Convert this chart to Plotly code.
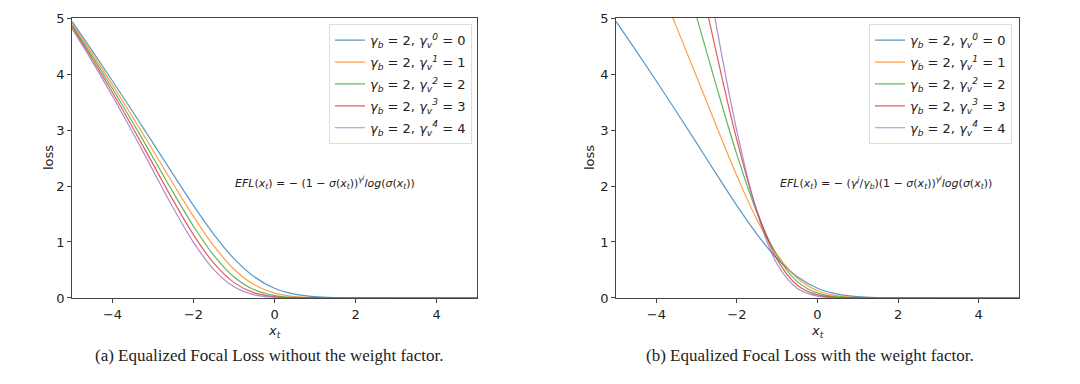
import plotly.graph_objects as go

# x_t sample positions
x_vals = [-5, -4.5, -4, -3.5, -3, -2.5, -2, -1.5, -1, -0.5, 0, 0.5, 1, 1.5, 2, 2.5, 3, 3.5, 4, 4.5, 5]

# (a) without weight factor, gamma_v^j = 0..4
a_g0 = [4.9399, 4.4125, 3.8749, 3.3259, 2.7663, 2.2025, 1.6501, 1.1373, 0.7019, 0.3774, 0.1733, 0.0676, 0.0227, 0.0067, 0.0018, 0.00045, 0.00011, 0.00003, 0.00001, 0, 0]
a_g1 = [4.9069, 4.3640, 3.8052, 3.2284, 2.6351, 2.0354, 1.4534, 0.9298, 0.5131, 0.2349, 0.0866, 0.0255, 0.0061, 0.0012, 0.0002, 0.00003, 0, 0, 0, 0, 0]
a_g2 = [4.8742, 4.3160, 3.7368, 3.1337, 2.5101, 1.8810, 1.2801, 0.7602, 0.3751, 0.1462, 0.0433, 0.0096, 0.0016, 0.0002, 0.00003, 0, 0, 0, 0, 0, 0]
a_g3 = [4.8414, 4.2686, 3.6696, 3.0419, 2.3911, 1.7383, 1.1275, 0.6215, 0.2742, 0.0910, 0.0217, 0.0036, 0.0004, 0.00004, 0, 0, 0, 0, 0, 0, 0]
a_g4 = [4.8090, 4.2217, 3.6036, 2.9527, 2.2777, 1.6064, 0.9931, 0.5081, 0.2005, 0.0567, 0.0108, 0.0014, 0.0001, 0, 0, 0, 0, 0, 0, 0, 0]

# (b) with weight factor
b_g0 = [4.9399, 4.4125, 3.8749, 3.3259, 2.7663, 2.2025, 1.6501, 1.1373, 0.7019, 0.3774, 0.1733, 0.0676, 0.0227, 0.0067, 0.0018, 0.00045, 0.00011, 0.00003, 0.00001, 0, 0]
b_g1 = [7.3603, 6.5460, 5.7078, 4.8425, 3.9526, 3.0531, 2.1801, 1.3947, 0.7697, 0.3524, 0.1300, 0.0383, 0.0091, 0.0018, 0.0003, 0.00005, 0, 0, 0, 0, 0]
b_g2 = [9.7483, 8.6321, 7.4735, 6.2675, 5.0202, 3.7620, 2.5603, 1.5204, 0.7502, 0.2925, 0.0866, 0.0193, 0.0033, 0.0004, 0.00006, 0, 0, 0, 0, 0, 0]
b_g3 = [12.1035, 10.6715, 9.1739, 7.6047, 5.9777, 4.3458, 2.8188, 1.5538, 0.6856, 0.2276, 0.0542, 0.0091, 0.0011, 0.0001, 0, 0, 0, 0, 0, 0, 0]
b_g4 = [14.4270, 12.6651, 10.8107, 8.8582, 6.8330, 4.8193, 2.9794, 1.5244, 0.6014, 0.1700, 0.0325, 0.0041, 0.0004, 0, 0, 0, 0, 0, 0, 0, 0]

series_names = [
    "<i>γ<sub>b</sub></i> = 2, <i>γ<sub>v</sub><sup>0</sup></i> = 0",
    "<i>γ<sub>b</sub></i> = 2, <i>γ<sub>v</sub><sup>1</sup></i> = 1",
    "<i>γ<sub>b</sub></i> = 2, <i>γ<sub>v</sub><sup>2</sup></i> = 2",
    "<i>γ<sub>b</sub></i> = 2, <i>γ<sub>v</sub><sup>3</sup></i> = 3",
    "<i>γ<sub>b</sub></i> = 2, <i>γ<sub>v</sub><sup>4</sup></i> = 4",
]
colors = ["#1f77b4", "#ff7f0e", "#2ca02c", "#d62728", "#9467bd"]

x_tick_vals = [-4, -2, 0, 2, 4]
y_tick_vals = [0, 1, 2, 3, 4, 5]

x_title = "<i>x<sub>t</sub></i>"
y_title = "loss"
caption_a = "(a) Equalized Focal Loss without the weight factor."
caption_b = "(b) Equalized Focal Loss with the weight factor."
formula_a = "<i>EFL</i>(<i>x<sub>t</sub></i>) = − (1 − <i>σ</i>(<i>x<sub>t</sub></i>))<sup><i>γ<sup>j</sup></i></sup><i>log</i>(<i>σ</i>(<i>x<sub>t</sub></i>))"
formula_b = "<i>EFL</i>(<i>x<sub>t</sub></i>) = − (<i>γ<sup>j</sup></i>/<i>γ<sub>b</sub></i>)(1 − <i>σ</i>(<i>x<sub>t</sub></i>))<sup><i>γ<sup>j</sup></i></sup><i>log</i>(<i>σ</i>(<i>x<sub>t</sub></i>))"

fig = go.Figure()

for i, (name, col, ys) in enumerate(zip(series_names, colors, [a_g0, a_g1, a_g2, a_g3, a_g4])):
    fig.add_trace(go.Scatter(x=x_vals, y=ys, mode="lines", name=name, legendgroup=f"a{i}",
                             line=dict(color=col, width=1.2, shape="spline"),
                             opacity=0.75, xaxis="x", yaxis="y", legend="legend"))
for i, (name, col, ys) in enumerate(zip(series_names, colors, [b_g0, b_g1, b_g2, b_g3, b_g4])):
    fig.add_trace(go.Scatter(x=x_vals, y=ys, mode="lines", name=name, legendgroup=f"b{i}",
                             line=dict(color=col, width=1.2, shape="spline"),
                             opacity=0.75, xaxis="x2", yaxis="y2", legend="legend2"))

font_main = "DejaVu Sans"
axis_common = dict(showline=True, linecolor="#444", linewidth=1, mirror=True,
                   ticks="outside", ticklen=4, tickcolor="#444", showgrid=False,
                   zeroline=False, automargin=False,
                   tickfont=dict(family=font_main, size=13, color="#222"))

title_font = dict(family=font_main, size=13, color="#222")

fig.update_layout(
    width=1080, height=384,
    autosize=False,
    margin=dict(l=0, r=0, t=0, b=0, pad=0, autoexpand=False),
    paper_bgcolor="white", plot_bgcolor="white",
    font=dict(family=font_main, size=12, color="#222"),
    xaxis=dict(domain=[0.0667, 0.4417], range=[-5, 5], tickvals=x_tick_vals, **axis_common),
    yaxis=dict(domain=[0.224, 0.953], range=[0, 5], tickvals=y_tick_vals, **axis_common),
    xaxis2=dict(domain=[0.5704, 0.9435], range=[-5, 5], tickvals=x_tick_vals, anchor="y2", **axis_common),
    yaxis2=dict(domain=[0.224, 0.953], range=[0, 5], tickvals=y_tick_vals, anchor="x2", **axis_common),
    legend=dict(x=0.437, y=0.937, xanchor="right", yanchor="top", xref="paper", yref="paper",
                bgcolor="white", bordercolor="#ddd", borderwidth=1,
                font=dict(family=font_main, size=13), itemwidth=30, tracegroupgap=2),
    legend2=dict(x=0.937, y=0.937, xanchor="right", yanchor="top", xref="paper", yref="paper",
                 bgcolor="white", bordercolor="#ddd", borderwidth=1,
                 font=dict(family=font_main, size=13), itemwidth=30, tracegroupgap=2),
    showlegend=True,
    annotations=[
        dict(text=y_title, x=49 / 1080, y=1 - 158 / 384, xref="paper", yref="paper", showarrow=False,
             textangle=-90, xanchor="center", yanchor="middle", font=title_font),
        dict(text=y_title, x=590 / 1080, y=1 - 158 / 384, xref="paper", yref="paper", showarrow=False,
             textangle=-90, xanchor="center", yanchor="middle", font=title_font),
        dict(text=x_title, x=0.2542, y=1 - 331 / 384, xref="paper", yref="paper", showarrow=False,
             xanchor="center", yanchor="middle", font=title_font),
        dict(text=x_title, x=0.757, y=1 - 331 / 384, xref="paper", yref="paper", showarrow=False,
             xanchor="center", yanchor="middle", font=title_font),
        dict(text=formula_a, x=0.301, y=0.525, xref="paper", yref="paper", showarrow=False,
             xanchor="center", yanchor="middle",
             font=dict(family=font_main, size=11, color="#222")),
        dict(text=formula_b, x=0.82, y=0.525, xref="paper", yref="paper", showarrow=False,
             xanchor="center", yanchor="middle",
             font=dict(family=font_main, size=11, color="#222")),
        dict(text=caption_a, x=0.249, y=1 - 355 / 384, xref="paper", yref="paper", showarrow=False,
             xanchor="center", yanchor="middle",
             font=dict(family="Liberation Serif", size=17, color="#222")),
        dict(text=caption_b, x=0.75, y=1 - 355 / 384, xref="paper", yref="paper", showarrow=False,
             xanchor="center", yanchor="middle",
             font=dict(family="Liberation Serif", size=17, color="#222")),
    ],
)

fig.write_html("out.html", config={"displayModeBar": False},
               post_script="document.body.style.margin='0';")
